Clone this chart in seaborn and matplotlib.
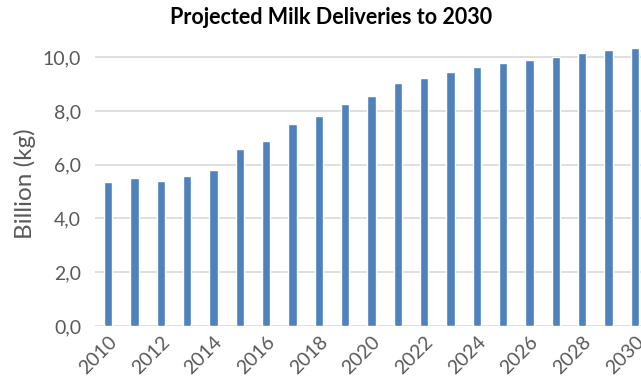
import matplotlib
matplotlib.use("Agg")
import matplotlib.pyplot as plt
import seaborn as sns
import pandas as pd
from matplotlib.ticker import FuncFormatter

years = [str(y) for y in range(2010, 2031)]
deliveries = [5.34, 5.52, 5.39, 5.58, 5.82, 6.58, 6.88, 7.50, 7.82, 8.25, 8.54,
              9.02, 9.21, 9.45, 9.64, 9.79, 9.91, 10.01, 10.16, 10.26, 10.35]
tick_years = years[::2]

df = pd.DataFrame({"year": years, "value": deliveries})

sns.set_style("white")
plt.rcParams['font.family'] = ['Lato', 'DejaVu Sans']

fig = plt.figure(figsize=(6.41, 3.92), dpi=100)
ax = fig.add_axes([95/641, 66/392, (648-95)/641, (326-41)/392])

sns.barplot(data=df, x="year", y="value", order=years, color="#4F81BD",
            saturation=1, width=0.31, ax=ax, zorder=3)

ax.set_ylim(0, 10.6)
ax.set_yticks([0, 2, 4, 6, 8, 10])
ax.yaxis.set_major_formatter(FuncFormatter(lambda v, p: f"{v:.1f}".replace(".", ",")))
ax.set_xticks(range(0, len(years), 2))
ax.set_xticklabels(tick_years, rotation=45, ha="right", rotation_mode="anchor")
ax.grid(axis="y", color="#d9d9d9", linewidth=1.2, zorder=0)
for s in ax.spines.values():
    s.set_visible(False)
ax.tick_params(axis="both", length=0, colors="#595959", labelsize=14)
ax.tick_params(axis="x", pad=5)
ax.tick_params(axis="y", pad=10)
ax.set_xlabel("")
ax.set_ylabel("Billion (kg)", color="#595959", fontsize=17.5, labelpad=5)
fig.text(331/641, 1 - 18/392, "Projected Milk Deliveries to 2030", ha="center", va="center",
         fontsize=15.5, fontweight="bold", color="black")

fig.savefig("out.png", dpi=100)
